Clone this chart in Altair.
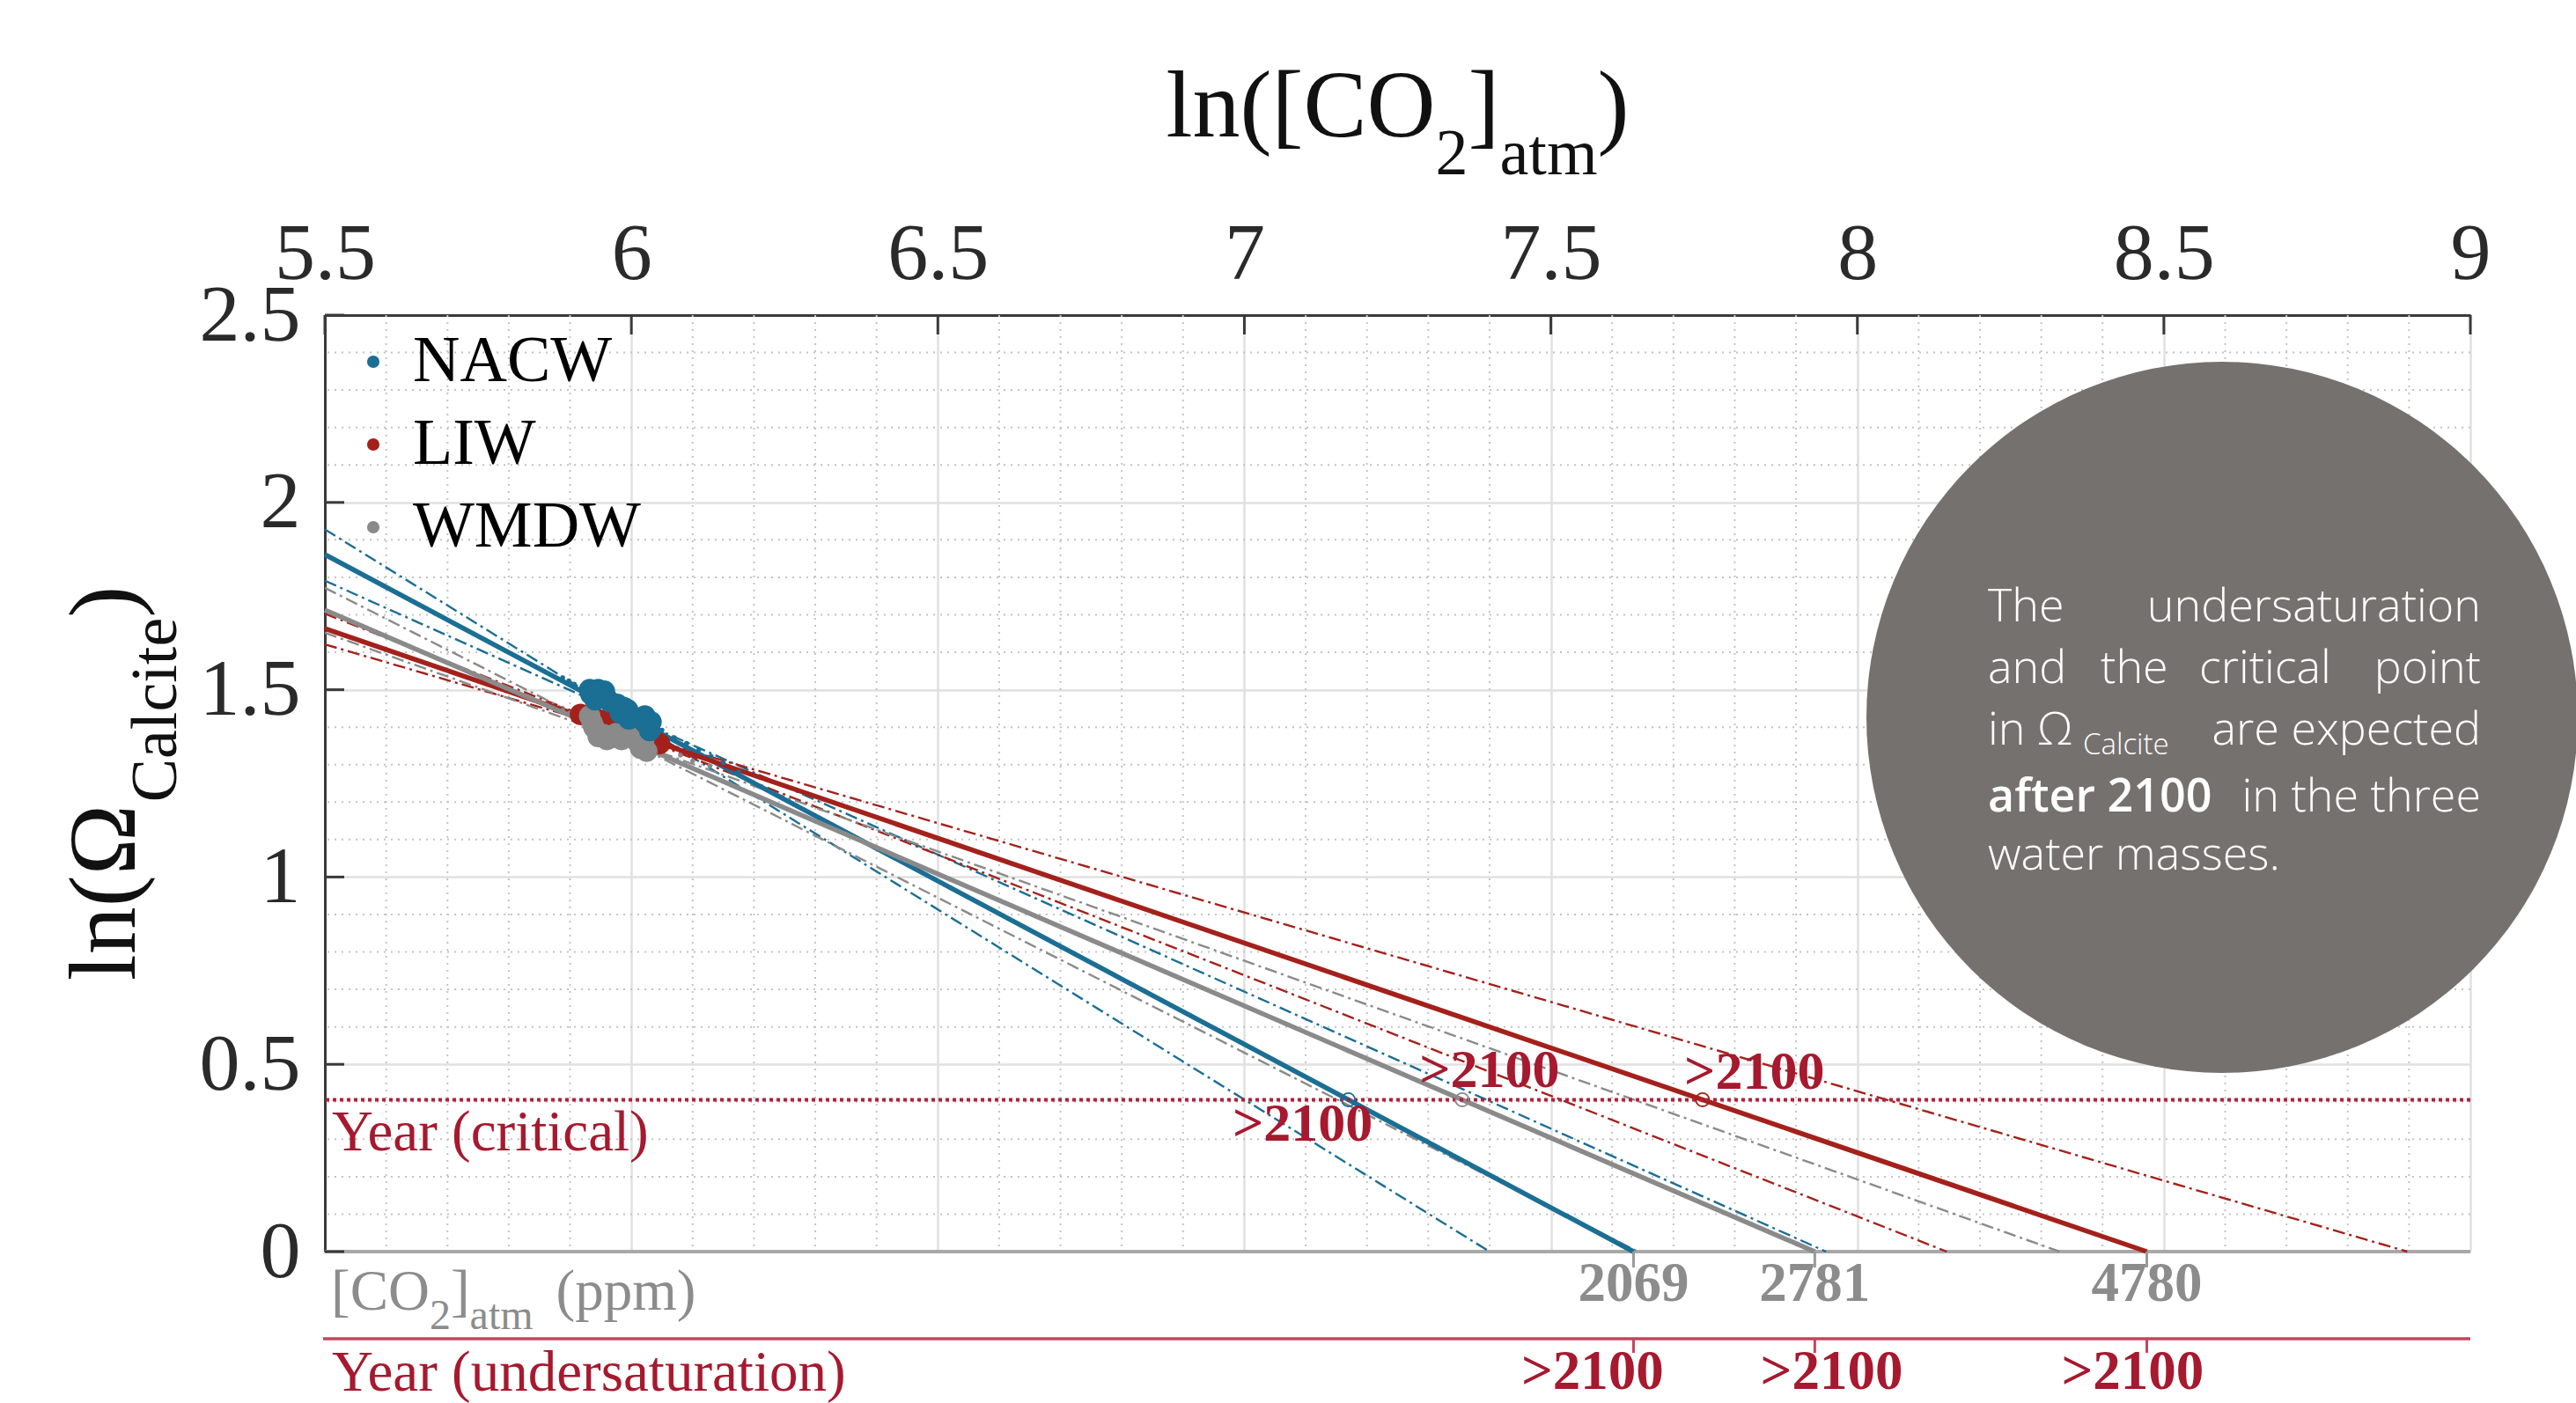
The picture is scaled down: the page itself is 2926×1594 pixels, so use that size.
import altair as alt
import pandas as pd
import numpy as np

# ---------------- data ----------------
series = ["NACW", "LIW", "WMDW"]
series_colors = ["#1b6e94", "#a4211b", "#8a8a8a"]

# regression (solid) lines: ln(Omega) at ln(CO2)=5.5 and CO2 (ppm) where ln(Omega)=0
fit_y_at_55 = [1.861, 1.663, 1.713]
fit_zero_ppm = [2069, 4780, 2781]
# confidence (dash-dot) lines: ln(Omega) at 5.5 and ln(CO2) where ln(Omega)=0
ci_steep_y_at_55 = [1.928, 1.703, 1.772]
ci_steep_zero_lnco2 = [7.400, 8.146, 7.642]
ci_flat_y_at_55 = [1.791, 1.621, 1.652]
ci_flat_zero_lnco2 = [7.949, 8.897, 8.330]

# observations (ln CO2, ln Omega)
nacw_x = [5.932, 5.934, 5.941, 5.946, 5.952, 5.956, 5.960, 5.965, 5.977, 5.982, 5.988, 5.994,
          5.996, 6.018, 6.022, 6.025, 6.030, 6.032]
nacw_y = [1.500, 1.488, 1.473, 1.500, 1.482, 1.496, 1.476, 1.468, 1.461, 1.438, 1.452, 1.446,
          1.422, 1.422, 1.430, 1.407, 1.391, 1.414]
wmdw_x = [5.932, 5.936, 5.939, 5.946, 5.955, 5.960, 5.968, 5.975, 5.984, 5.990, 5.996, 6.008,
          6.015, 6.025, 6.020]
wmdw_y = [1.430, 1.412, 1.399, 1.375, 1.380, 1.367, 1.372, 1.383, 1.367, 1.378, 1.375, 1.364,
          1.344, 1.336, 1.367]
liw_x = [5.917, 5.940, 5.956, 5.975, 5.996, 6.030, 6.046]
liw_y = [1.434, 1.425, 1.418, 1.410, 1.403, 1.367, 1.356]

# small markers along the fits
small_nacw_x = [5.888, 5.898, 5.907, 6.050, 6.070, 6.090, 6.110, 6.130, 6.150, 6.175]
small_nacw_y = [1.532, 1.524, 1.515, 1.392, 1.372, 1.357, 1.340, 1.322, 1.305, 1.281]
small_wmdw_x = [5.888, 5.900, 5.917, 6.057, 6.080, 6.100, 6.128]
small_wmdw_y = [1.445, 1.438, 1.430, 1.344, 1.325, 1.310, 1.297]
small_liw_x = [6.046, 6.065, 6.085, 6.104]
small_liw_y = [1.360, 1.348, 1.334, 1.320]

critical_omega = 1.5
crit_year_text = [">2100", ">2100", ">2100"]
under_year_text = [">2100", ">2100", ">2100"]

x_major = [5.5, 6, 6.5, 7, 7.5, 8, 8.5, 9]
y_major = [0, 0.5, 1, 1.5, 2, 2.5]
x_minor = [5.6, 5.7, 5.8, 5.9, 6.1, 6.2, 6.3, 6.4, 6.6, 6.7, 6.8, 6.9, 7.1, 7.2, 7.3, 7.4,
           7.6, 7.7, 7.8, 7.9, 8.1, 8.2, 8.3, 8.4, 8.6, 8.7, 8.8, 8.9]
y_minor = [0.1, 0.2, 0.3, 0.4, 0.6, 0.7, 0.8, 0.9, 1.1, 1.2, 1.3, 1.4, 1.6, 1.7, 1.8, 1.9,
           2.1, 2.2, 2.3, 2.4]

# ---------------- styling ----------------
W, H = 2437, 1064
PL, PT = 369, 358
FONT = "Liberation Serif"
SANS = "Open Sans"
CRIMSON = "#a6192e"
DARK = "#2a2a2a"
GREY_TXT = "#8c8c8c"

xscale = alt.Scale(domain=[5.5, 9], nice=False, zero=False)
yscale = alt.Scale(domain=[0, 2.5], nice=False, zero=False)
xaxis = alt.Axis(orient="top", values=x_major, format="~g", title=None, ticks=False,
                 domainColor="#3a3a3a", domainWidth=3, grid=True, gridColor="#e0e0e0",
                 gridWidth=2.5, labelFont=FONT, labelFontSize=92, labelColor=DARK,
                 labelPadding=23, labelFlush=False, labelOverlap=False)
yaxis = alt.Axis(orient="left", values=y_major, format="~g", title=None, ticks=False,
                 domainColor="#3a3a3a", domainWidth=3, grid=True, gridColor="#e0e0e0",
                 gridWidth=2.5, labelFont=FONT, labelFontSize=92, labelColor=DARK,
                 labelPadding=28, labelFlush=False, labelOverlap=False, labelBaseline="middle")


def X(f):
    return alt.X(f, type="quantitative", scale=xscale, axis=xaxis)


def Y(f):
    return alt.Y(f, type="quantitative", scale=yscale, axis=yaxis)


one = pd.DataFrame({"a": [0]})

# ---------------- tables ----------------
line_rows, ci_rows, crit_rows, icpt_rows = [], [], [], []
ln_crit = float(np.log(critical_omega))
for s, c, y0, ppm, ys, xs, yf, xf in zip(series, series_colors, fit_y_at_55, fit_zero_ppm,
                                         ci_steep_y_at_55, ci_steep_zero_lnco2,
                                         ci_flat_y_at_55, ci_flat_zero_lnco2):
    xz = float(np.log(ppm))
    line_rows += [dict(id=s, color=c, x=5.5, y=y0), dict(id=s, color=c, x=xz, y=0.0)]
    ci_rows += [dict(id=s + "s", color=c, x=5.5, y=ys), dict(id=s + "s", color=c, x=xs, y=0.0),
                dict(id=s + "f", color=c, x=5.5, y=yf), dict(id=s + "f", color=c, x=xf, y=0.0)]
    xc = 5.5 + (y0 - ln_crit) * (xz - 5.5) / y0
    crit_rows.append(dict(color=c, x=xc, y=ln_crit))
    icpt_rows.append(dict(x=xz, ppm=str(ppm)))
lines_df = pd.DataFrame(line_rows)
ci_df = pd.DataFrame(ci_rows)
crit_df = pd.DataFrame(crit_rows)
icpt_df = pd.DataFrame(icpt_rows)

pts = []
for s, xs_, ys_, z in [("LIW", liw_x, liw_y, 0), ("WMDW", wmdw_x, wmdw_y, 1), ("NACW", nacw_x, nacw_y, 2)]:
    for a, b in zip(xs_, ys_):
        pts.append(dict(series=s, x=a, y=b, z=z))
pts_df = pd.DataFrame(pts)

small = []
for c, xs_, ys_ in [(series_colors[1], small_liw_x, small_liw_y),
                    (series_colors[2], small_wmdw_x, small_wmdw_y),
                    (series_colors[0], small_nacw_x, small_nacw_y)]:
    for a, b in zip(xs_, ys_):
        small.append(dict(color=c, x=a, y=b))
small_df = pd.DataFrame(small)

# label anchors (data coordinates)
crit_lab_df = pd.DataFrame({"x": [7.095, 7.400, 7.832], "y": [0.296, 0.439, 0.435], "t": crit_year_text})
under_lab_df = pd.DataFrame({"x": [7.568, 7.958, 8.449], "t": under_year_text})

layers = []
# minor grids
layers.append(alt.Chart(pd.DataFrame({"v": x_minor})).mark_rule(
    color="#c4c4c4", strokeWidth=2, strokeDash=[2, 6]).encode(x=X("v")))
layers.append(alt.Chart(pd.DataFrame({"v": y_minor})).mark_rule(
    color="#c4c4c4", strokeWidth=2, strokeDash=[2, 6]).encode(y=Y("v")))
# y = 0 base line
layers.append(alt.Chart(pd.DataFrame({"v": [0.0]})).mark_rule(
    color="#a8a8a8", strokeWidth=4).encode(y=Y("v")))
# confidence lines
layers.append(alt.Chart(ci_df).mark_line(strokeWidth=2.4, strokeDash=[14, 5, 3, 5]).encode(
    x=X("x"), y=Y("y"), detail="id:N", color=alt.Color("color:N", scale=None)))
# fit lines
layers.append(alt.Chart(lines_df).mark_line(strokeWidth=5.5).encode(
    x=X("x"), y=Y("y"), detail="id:N", color=alt.Color("color:N", scale=None)))
# critical line
layers.append(alt.Chart(pd.DataFrame({"v": [ln_crit]})).mark_rule(
    color="#b41f3b", strokeWidth=4, strokeDash=[4, 4]).encode(y=Y("v")))
# small markers
layers.append(alt.Chart(small_df).mark_circle(size=30, opacity=1).encode(
    x=X("x"), y=Y("y"), color=alt.Color("color:N", scale=None)))
# observations with legend
layers.append(alt.Chart(pts_df).mark_circle(size=600, opacity=1).encode(
    x=X("x"), y=Y("y"), order=alt.Order("z:Q"),
    color=alt.Color("series:N", scale=alt.Scale(domain=series, range=series_colors),
                    legend=alt.Legend(title=None, orient="none", legendX=18, legendY=16,
                                      symbolType="circle", symbolSize=200, symbolStrokeWidth=0,
                                      symbolOpacity=1, labelFont=FONT, labelFontSize=74,
                                      labelColor="black", labelOffset=8, rowPadding=20,
                                      padding=0, labelLimit=0))))
# intersections with critical level
layers.append(alt.Chart(crit_df).mark_point(shape="circle", filled=False, size=230, strokeWidth=1.8,
                                           opacity=1).encode(
    x=X("x"), y=Y("y"), color=alt.Color("color:N", scale=None)))
# inward ticks
layers.append(alt.Chart(pd.DataFrame({"v": x_major})).mark_rule(color="#3a3a3a", strokeWidth=3).encode(
    x=X("v"), y=alt.value(0), y2=alt.value(22)))
layers.append(alt.Chart(pd.DataFrame({"v": y_major})).mark_rule(color="#3a3a3a", strokeWidth=3).encode(
    y=Y("v"), x=alt.value(0), x2=alt.value(22)))

# critical labels
layers.append(alt.Chart(crit_lab_df).mark_text(font=FONT, fontSize=62, fontWeight="bold", color=CRIMSON,
                                               align="center", baseline="alphabetic").encode(
    x=X("x"), y=Y("y"), text="t:N"))
layers.append(alt.Chart(one).mark_text(text="Year (critical)", font=FONT, fontSize=65, color=CRIMSON,
                                       align="left", baseline="alphabetic").encode(
    x=alt.value(8), y=alt.value(949)))

# below-axis scales
layers.append(alt.Chart(icpt_df).mark_rule(color="#9a9a9a", strokeWidth=3).encode(
    x=X("x"), y=alt.value(H), y2=alt.value(H + 18)))
layers.append(alt.Chart(icpt_df).mark_text(font=FONT, fontSize=63, fontWeight="bold", color=GREY_TXT,
                                           align="center", baseline="alphabetic").encode(
    x=X("x"), y=alt.value(1120), text="ppm:N"))
layers.append(alt.Chart(one).mark_rule(color="#c4455c", strokeWidth=3.5).encode(
    x=alt.value(-2), x2=alt.value(W), y=alt.value(1163)))
layers.append(alt.Chart(icpt_df).mark_rule(color="#c4455c", strokeWidth=3).encode(
    x=X("x"), y=alt.value(1163), y2=alt.value(1179)))
layers.append(alt.Chart(under_lab_df).mark_text(font=FONT, fontSize=63, fontWeight="bold", color=CRIMSON,
                                                align="center", baseline="alphabetic").encode(
    x=X("x"), y=alt.value(1220), text="t:N"))
layers.append(alt.Chart(one).mark_text(text="Year (undersaturation)", font=FONT, fontSize=65, color=CRIMSON,
                                       align="left", baseline="alphabetic").encode(
    x=alt.value(8), y=alt.value(1222)))

# ---------------- rich (sub-scripted) text ----------------
TW = {"l": 0.278, "n": 0.5, "(": 0.333, ")": 0.333, "[": 0.333, "]": 0.333, "C": 0.667, "O": 0.722,
      "2": 0.5, "a": 0.444, "t": 0.278, "m": 0.778, " ": 0.25, "p": 0.5, "Ω": 0.768, "c": 0.444,
      "i": 0.278, "e": 0.444}


def tw(s, size):
    return sum(TW.get(ch, 0.5) for ch in s) * size


def rich(pieces, x0, y0, color, angle=0):
    out = []
    pos = x0 if angle == 0 else y0
    for text, size, off in pieces:
        lead = len(text) - len(text.lstrip(" "))
        adv = lead * TW[" "] * size * 1.6
        text = text.lstrip(" ")
        pos = pos + adv if angle == 0 else pos - adv
        if angle == 0:
            enc = dict(x=alt.value(pos), y=alt.value(y0 + off))
            pos += tw(text, size)
        else:
            enc = dict(x=alt.value(x0 + off), y=alt.value(pos))
            pos -= tw(text, size)
        out.append(alt.Chart(one).mark_text(text=text, font=FONT, fontSize=size, color=color,
                                            align="left", baseline="alphabetic",
                                            angle=angle).encode(**enc))
    return out


top_title = [("ln([CO", 108, 0), ("2", 74, 43), ("]", 108, 0), ("atm", 74, 43), (")", 108, 0)]
tot = sum(tw(t, s) for t, s, _ in top_title)
layers += rich(top_title, W / 2 - tot / 2, 155 - PT, "#111111")

y_title = [("ln(Ω", 108, 0), ("Calcite", 74, 47), (")", 108, 0)]
tot = sum(tw(t, s) for t, s, _ in y_title)
layers += rich(y_title, 153 - PL, H / 2 + tot / 2, "#111111", angle=270)

co2_lab = [("[CO", 65, 0), ("2", 48, 22), ("]", 65, 0), ("atm", 48, 22), (" (ppm)", 65, 0)]
layers += rich(co2_lab, 7, 1130, GREY_TXT)

# ---------------- callout circle ----------------
layers.append(alt.Chart(one).mark_point(shape="circle", filled=True, size=808 ** 2, color="#75716f",
                                        opacity=1, strokeWidth=0).encode(
    x=alt.value(2524 - PL), y=alt.value(815 - PT)))


def ctext(text, xabs, yabs, align="left", size=52, weight=300):
    return alt.Chart(one).mark_text(text=text, font=SANS, fontSize=size, fontWeight=weight, color="white",
                                    align=align, baseline="alphabetic").encode(
        x=alt.value(xabs - PL), y=alt.value(yabs - PT))


L, R = 2258, 2818
layers += [
    ctext("The", L, 706), ctext("undersaturation", R, 706, "right"),
    ctext("and", L, 776), ctext("the", 2386, 776), ctext("critical", 2498, 776), ctext("point", R, 776, "right"),
    ctext("in Ω", L, 846), ctext("Calcite", 2366, 857, size=33), ctext("are expected", R, 846, "right"),
    ctext("after 2100", L, 922, weight=600), ctext("in the three", R, 922, "right"),
    ctext("water masses.", L, 988),
]

chart = alt.layer(*layers).properties(
    width=W, height=H,
    autosize=alt.AutoSizeParams(type="none"),
    padding={"left": PL, "top": PT, "right": 2926 - PL - W, "bottom": 1594 - PT - H},
    background="white",
).configure_view(stroke=None)

chart.save("out.html", embed_options={"renderer": "svg", "actions": False})
